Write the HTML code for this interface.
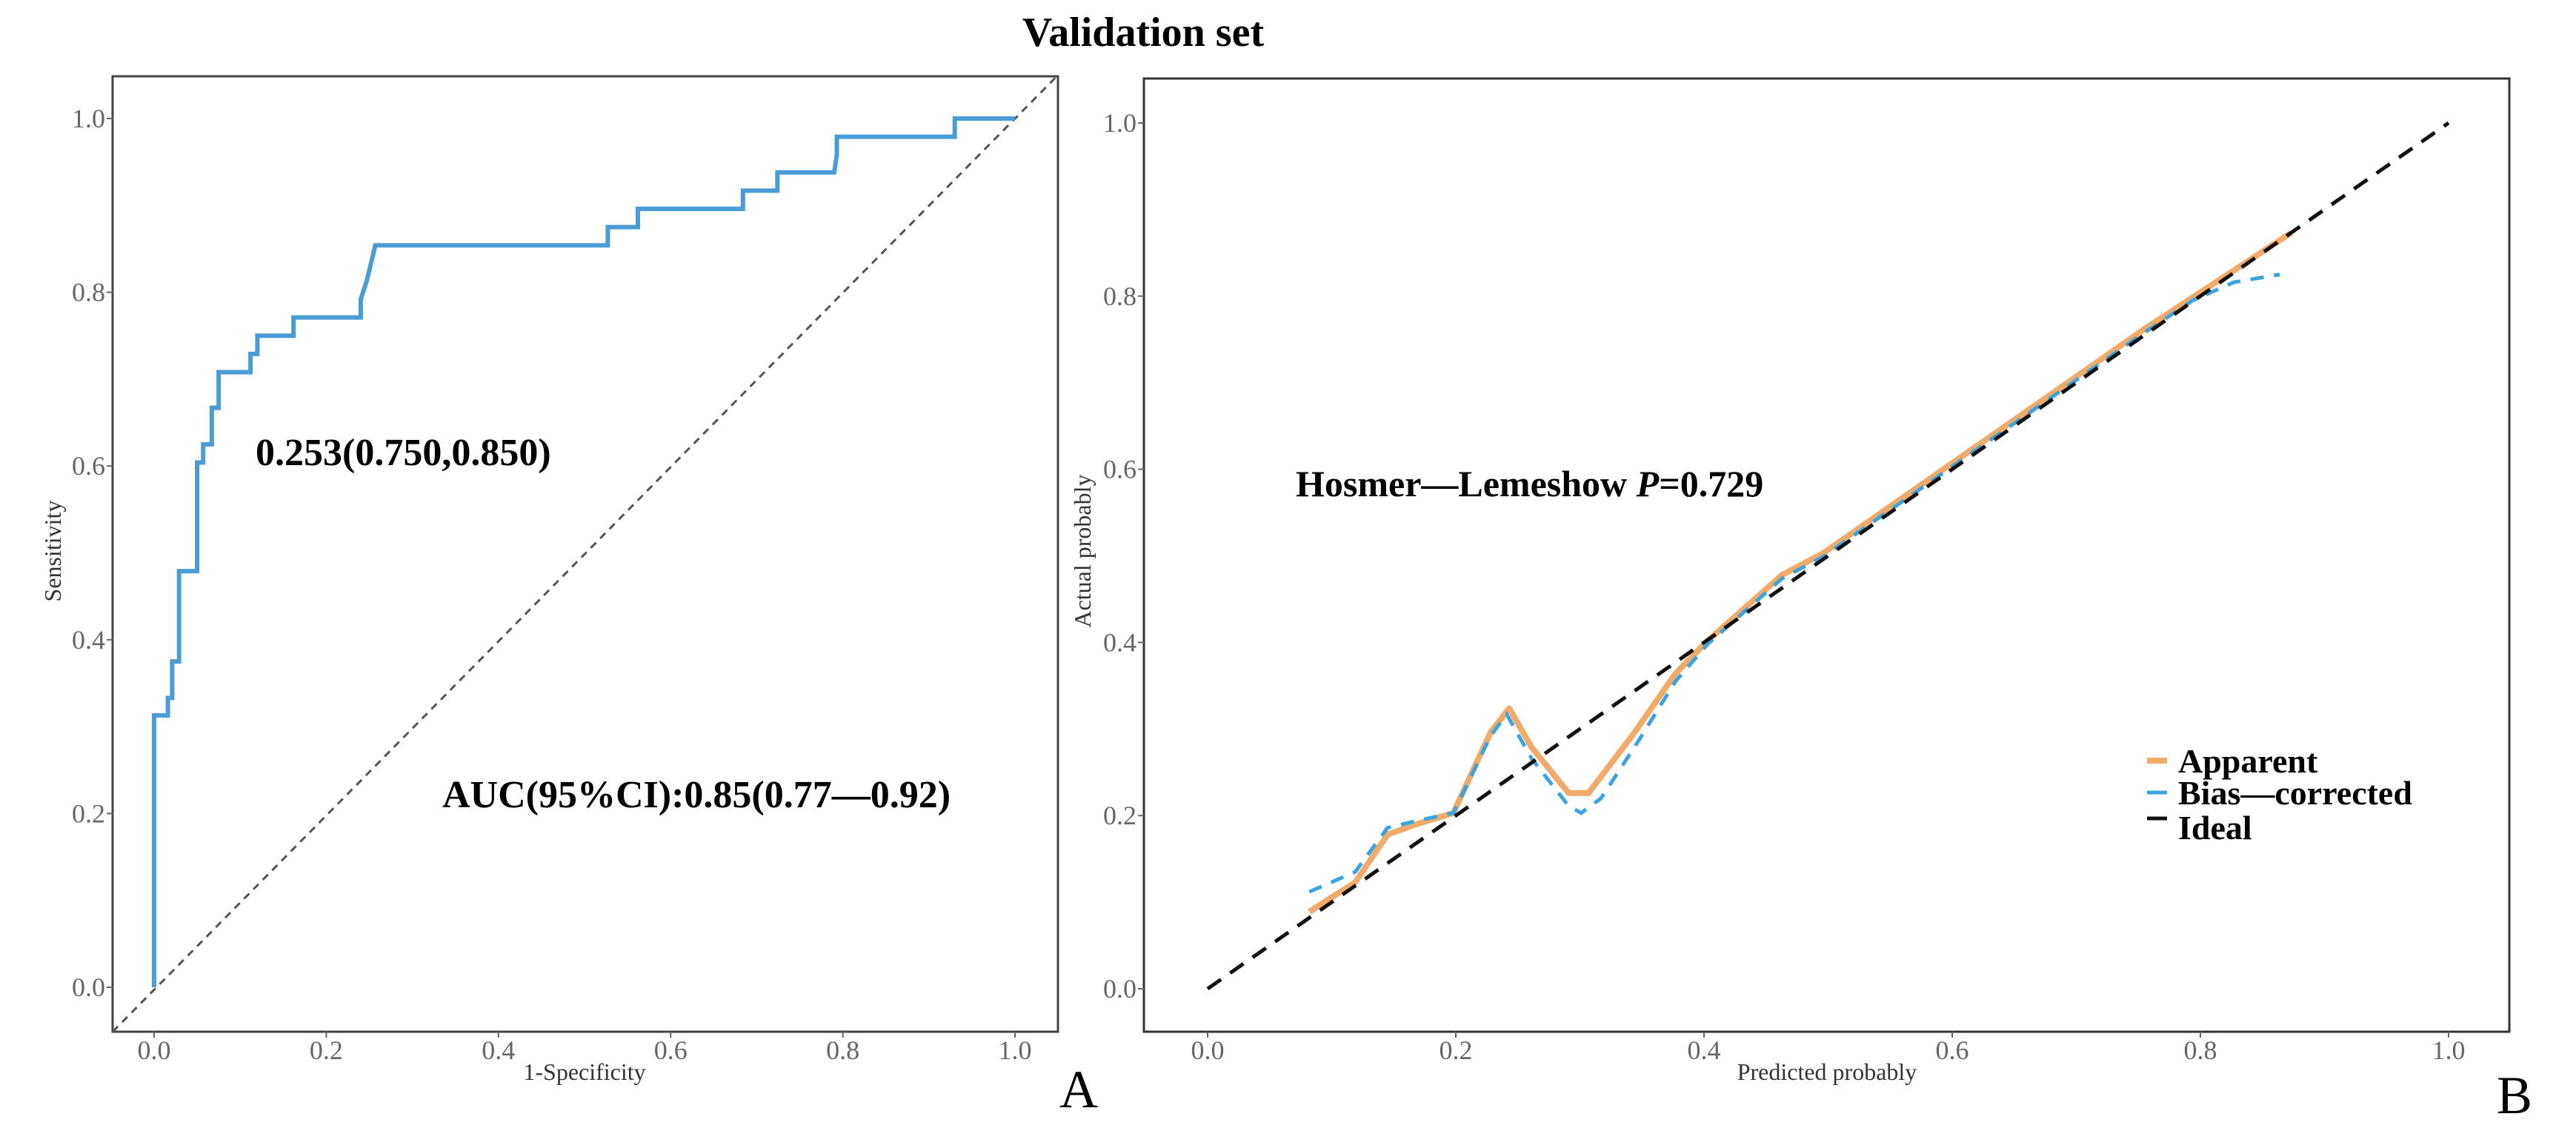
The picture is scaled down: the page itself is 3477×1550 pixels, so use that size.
<!DOCTYPE html>
<html><head><meta charset="utf-8"><style>
html,body{margin:0;padding:0;background:#fff}
svg{display:block}
text{font-family:"Liberation Serif",serif}
</style></head><body>
<svg id="fig" width="3477" height="1550" viewBox="0 0 3477 1550">
<rect width="3477" height="1550" fill="#fff"/>
<text x="1543" y="62" font-size="56" font-weight="bold" text-anchor="middle">Validation set</text>
<g id="pa"></g>
<g id="pb"></g>
</svg>
<script>
// ROC data (1-specificity, sensitivity) step vertices
const rocX=[0,0,0.016,0.016,0.021,0.021,0.029,0.029,0.05,0.05,0.057,0.057,0.067,0.067,0.075,0.075,0.112,0.112,0.12,0.12,0.162,0.162,0.24,0.24,0.247,0.247,0.257,0.257,0.527,0.527,0.562,0.562,0.684,0.684,0.724,0.724,0.79,0.793,0.793,0.93,0.93,1.0];
const rocY=[0,0.313,0.313,0.333,0.333,0.375,0.375,0.479,0.479,0.604,0.604,0.625,0.625,0.667,0.667,0.708,0.708,0.729,0.729,0.75,0.75,0.771,0.771,0.792,0.813,0.813,0.854,0.854,0.854,0.875,0.875,0.896,0.896,0.917,0.917,0.938,0.938,0.958,0.979,0.979,1.0,1.0];
const ticks=[0,0.2,0.4,0.6,0.8,1.0];
const tickLabels=["0.0","0.2","0.4","0.6","0.8","1.0"];
// Calibration data
const appX=[0.082,0.119,0.145,0.168,0.198,0.228,0.243,0.261,0.291,0.307,0.344,0.377,0.403,0.463,0.496,0.754,0.873];
const appY=[0.089,0.123,0.178,0.19,0.203,0.296,0.324,0.279,0.226,0.226,0.296,0.364,0.402,0.478,0.503,0.761,0.873];
const bcX=[0.082,0.119,0.145,0.172,0.198,0.228,0.241,0.261,0.291,0.301,0.317,0.344,0.377,0.403,0.463,0.496,0.754,0.794,0.827,0.864];
const bcY=[0.112,0.135,0.186,0.195,0.203,0.292,0.317,0.266,0.211,0.203,0.22,0.279,0.355,0.398,0.474,0.499,0.757,0.795,0.816,0.825];
const idealX=[0,1];
const idealY=[0,1];

const NS="http://www.w3.org/2000/svg";
function mk(tag,attrs,parent,txt){const e=document.createElementNS(NS,tag);for(const k in attrs)e.setAttribute(k,attrs[k]);if(txt!==undefined)e.textContent=txt;parent.appendChild(e);return e;}
function lin(d0,d1,r0,r1){return v=>r0+(v-d0)/(d1-d0)*(r1-r0);}
function pts(xs,ys,sx,sy){return xs.map((x,i)=>sx(x).toFixed(1)+","+sy(ys[i]).toFixed(1)).join(" ");}

// Panel A
const A=document.getElementById('pa');
const ax=lin(0,1,208,1370), ay=lin(0,1,1333,160);
const box=mk('rect',{x:152,y:103,width:1276,height:1290,fill:'none',stroke:'#444','stroke-width':3},A);

ticks.forEach((t,i)=>{
 let l=mk('line',{x1:ax(t),x2:ax(t),y1:1393,y2:1401,stroke:'#666','stroke-width':2},A);
 
 let tx=mk('text',{x:ax(t),y:1430,'font-size':36,fill:'#666','text-anchor':'middle'},A,tickLabels[i]);
 
 let l2=mk('line',{x1:144,x2:152,y1:ay(t),y2:ay(t),stroke:'#666','stroke-width':2},A);
 
 let ty=mk('text',{x:142,y:ay(t)+12,'font-size':36,fill:'#666','text-anchor':'end'},A,tickLabels[i]);
 
});
let dg=mk('line',{x1:ax(-0.048),y1:ay(-0.051),x2:ax(1.05),y2:ay(1.05),stroke:'#555','stroke-width':3,'stroke-dasharray':'10 8'},A);

let rc=mk('polyline',{points:pts(rocX,rocY,ax,ay),fill:'none',stroke:'#4a9cd6','stroke-width':6,'stroke-linejoin':'miter'},A);

let t1=mk('text',{x:345,y:628,'font-size':52,'font-weight':'bold'},A,'0.253(0.750,0.850)');

let t2=mk('text',{x:597,y:1090,'font-size':52,'font-weight':'bold'},A,'AUC(95%CI):0.85(0.77\u20140.92)');

let xl=mk('text',{x:789,y:1458,'font-size':32,fill:'#333','text-anchor':'middle'},A,'1-Specificity');

let yl=mk('text',{x:0,y:0,'font-size':32,fill:'#333','text-anchor':'middle',transform:'translate(82,744) rotate(-90)'},A,'Sensitivity');

let la=mk('text',{x:1456,y:1495,'font-size':72},A,'A');la.setAttribute('text-anchor','middle');


// Panel B
const B=document.getElementById('pb');
const bx=lin(0,1,1630,3305), by=lin(0,1,1335,166);
const bbox=mk('rect',{x:1544,y:106,width:1843,height:1287,fill:'none',stroke:'#333','stroke-width':3},B);

ticks.forEach((t,i)=>{
 let l=mk('line',{x1:bx(t),x2:bx(t),y1:1393,y2:1401,stroke:'#666','stroke-width':2},B);
 
 let tx=mk('text',{x:bx(t),y:1430,'font-size':36,fill:'#666','text-anchor':'middle'},B,tickLabels[i]);
 
 let l2=mk('line',{x1:1536,x2:1544,y1:by(t),y2:by(t),stroke:'#666','stroke-width':2},B);
 
 let ty=mk('text',{x:1534,y:by(t)+12,'font-size':36,fill:'#666','text-anchor':'end'},B,tickLabels[i]);
 
});
let ap=mk('polyline',{points:pts(appX,appY,bx,by),fill:'none',stroke:'#f0aa6a','stroke-width':8,'stroke-linejoin':'round'},B);

let bc=mk('polyline',{points:pts(bcX,bcY,bx,by),fill:'none',stroke:'#3ba3dd','stroke-width':5,'stroke-dasharray':'18 14'},B);

let il=mk('polyline',{points:pts(idealX,idealY,bx,by),fill:'none',stroke:'#111','stroke-width':5,'stroke-dasharray':'22 15'},B);

let hm=mk('text',{x:1749,y:670,'font-size':50,'font-weight':'bold'},B);

hm.innerHTML='Hosmer\u2014Lemeshow <tspan font-style="italic">P</tspan>=0.729';
const legNames=['Apparent','Bias\u2014corrected','Ideal'];
const legCols=['#f0aa6a','#3ba3dd','#111'];
const legY=[1027,1070,1117];
legNames.forEach((n,i)=>{
 let k=mk('line',{x1:2898,x2:2925,y1:legY[i]+(i==2?-12:0),y2:legY[i]+(i==2?-12:0),stroke:legCols[i],'stroke-width':i==0?8:5},B);
 
 let t=mk('text',{x:2940,y:legY[i]+16,'font-size':46,'font-weight':'bold'},B,n);
 
});
let bxl=mk('text',{x:2466,y:1458,'font-size':32,fill:'#333','text-anchor':'middle'},B,'Predicted probably');

let byl=mk('text',{x:0,y:0,'font-size':32,fill:'#333','text-anchor':'middle',transform:'translate(1472,744) rotate(-90)'},B,'Actual probably');

let lb=mk('text',{x:3394,y:1503,'font-size':72,'text-anchor':'middle'},B,'B');

</script>
</body></html>
